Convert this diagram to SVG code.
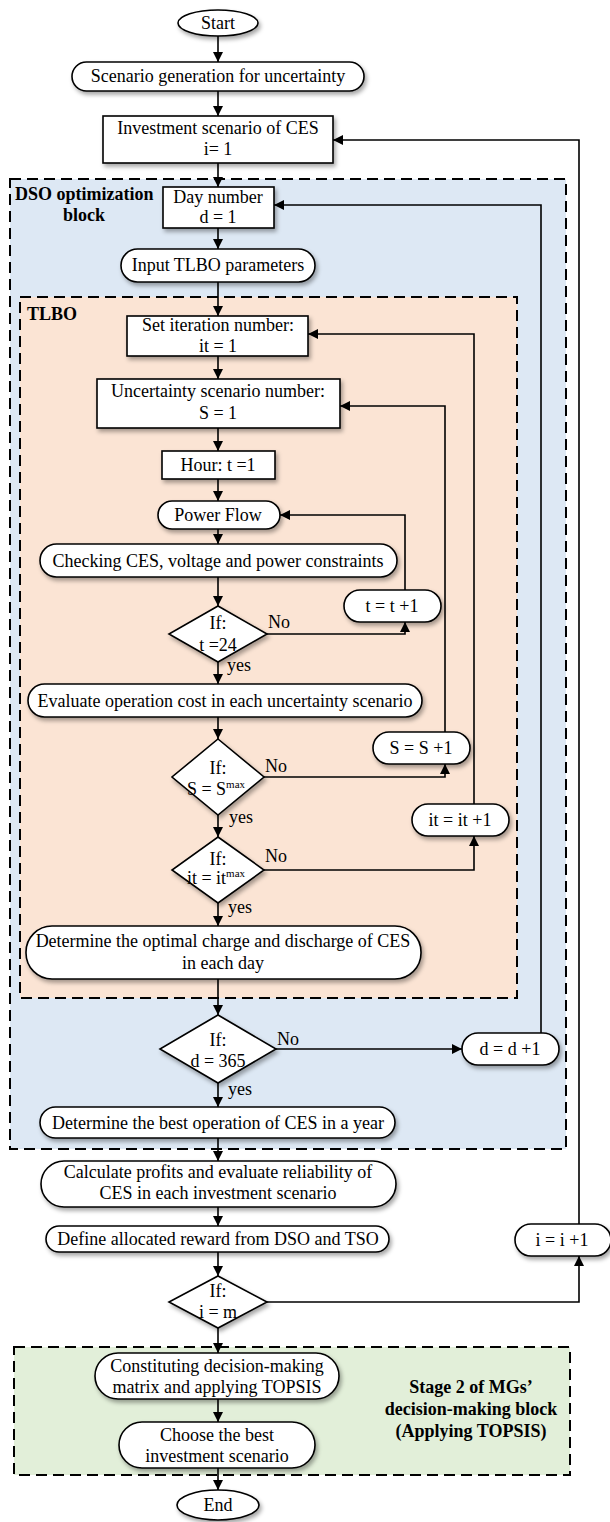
<svg xmlns="http://www.w3.org/2000/svg" width="610" height="1522" viewBox="0 0 610 1522">
  <style>
    .t { font-family: "Liberation Serif", "Times New Roman", serif; font-size: 18px; fill: #000; }
    .c { text-anchor: middle; }
    .b { font-weight: bold; }
    .node { fill: #fff; stroke: #000; stroke-width: 1.6; filter: url(#shadow); }
    .wire { fill: none; stroke: #000; stroke-width: 1.6; }
    .arr { marker-end: url(#head); }
    .block { stroke: #000; stroke-width: 2; stroke-dasharray: 11 6; }
    .sup { font-size: 11px; }
  </style>
  <defs>
    <marker id="head" viewBox="0 0 10 10" refX="10" refY="5" markerWidth="10" markerHeight="10" markerUnits="userSpaceOnUse" orient="auto">
      <path d="M0,0 L10,5 L0,10 z" fill="#000"/>
    </marker>
    <filter id="shadow" x="-10%" y="-20%" width="125%" height="160%">
      <feDropShadow dx="2" dy="3" stdDeviation="2" flood-color="#000" flood-opacity="0.35"/>
    </filter>
  </defs>

  <rect width="610" height="1522" fill="#fff"/>

  <!-- dashed blocks -->
  <g id="dso-block">
    <rect class="block" x="10" y="179" width="556" height="970" fill="#dde8f4"/>
    <text class="t b" x="15" y="200">DSO optimization</text>
    <text class="t b c" x="84" y="221">block</text>
  </g>
  <g id="tlbo-block">
    <rect class="block" x="20" y="297" width="497" height="701" fill="#fbe4d4"/>
    <text class="t b" x="27" y="320">TLBO</text>
  </g>
  <g id="topsis-block">
    <rect class="block" x="14" y="1347" width="556" height="128" fill="#e2efd9"/>
    <text class="t b c" x="471" y="1393">Stage 2 of MGs’</text>
    <text class="t b c" x="471" y="1415">decision-making block</text>
    <text class="t b c" x="471" y="1437">(Applying TOPSIS)</text>
  </g>

  <!-- connectors -->
  <g id="connectors">
    <line class="wire arr" x1="218" y1="36" x2="218" y2="62"/>
    <line class="wire arr" x1="218" y1="91" x2="218" y2="116"/>
    <line class="wire arr" x1="218" y1="163" x2="218" y2="187"/>
    <line class="wire arr" x1="218" y1="228" x2="218" y2="249"/>
    <line class="wire arr" x1="218" y1="282" x2="218" y2="316"/>
    <line class="wire arr" x1="218" y1="356" x2="218" y2="379"/>
    <line class="wire arr" x1="218" y1="428" x2="218" y2="451"/>
    <line class="wire arr" x1="218" y1="479" x2="218" y2="501"/>
    <line class="wire arr" x1="218" y1="529" x2="218" y2="544"/>
    <line class="wire arr" x1="218" y1="577" x2="218" y2="606"/>
    <line class="wire arr" x1="218" y1="662" x2="218" y2="684"/>
    <line class="wire arr" x1="218" y1="717" x2="218" y2="739"/>
    <line class="wire arr" x1="218" y1="815" x2="218" y2="837"/>
    <line class="wire arr" x1="218" y1="903" x2="218" y2="926"/>
    <line class="wire arr" x1="218" y1="979" x2="218" y2="1015"/>
    <line class="wire arr" x1="218" y1="1083" x2="218" y2="1107"/>
    <line class="wire arr" x1="218" y1="1138" x2="218" y2="1161"/>
    <line class="wire arr" x1="218" y1="1207" x2="218" y2="1226"/>
    <line class="wire arr" x1="218" y1="1252" x2="218" y2="1276"/>
    <line class="wire arr" x1="218" y1="1328" x2="218" y2="1353"/>
    <line class="wire arr" x1="218" y1="1399" x2="218" y2="1422"/>
    <line class="wire arr" x1="218" y1="1468" x2="218" y2="1490"/>

    <!-- hour loop -->
    <polyline class="wire arr" points="267,634 405,634 405,622"/>
    <polyline class="wire arr" points="405,590 405,515 280,515"/>
    <!-- scenario loop -->
    <polyline class="wire arr" points="264,777 445,777 445,764"/>
    <polyline class="wire arr" points="445,732 445,406 340,406"/>
    <!-- iteration loop -->
    <polyline class="wire arr" points="264,870 474,870 474,836"/>
    <polyline class="wire arr" points="474,804 474,334 308,334"/>
    <!-- day loop -->
    <line class="wire arr" x1="276" y1="1049" x2="462" y2="1049"/>
    <polyline class="wire arr" points="541,1033 541,205 274,205"/>
    <!-- investment loop -->
    <polyline class="wire arr" points="267,1302 579,1302 579,1256"/>
    <polyline class="wire arr" points="579,1224 579,140 333,140"/>

    <text class="t" x="268" y="628">No</text>
    <text class="t" x="227" y="671">yes</text>
    <text class="t" x="265" y="772">No</text>
    <text class="t" x="229" y="823">yes</text>
    <text class="t" x="265" y="862">No</text>
    <text class="t" x="228" y="913">yes</text>
    <text class="t" x="277" y="1045">No</text>
    <text class="t" x="228" y="1095">yes</text>
  </g>

  <!-- nodes -->
  <g id="start">
    <ellipse class="node" cx="218" cy="23" rx="40" ry="13"/>
    <text class="t c" x="218" y="29">Start</text>
  </g>
  <g id="scenario-generation">
    <rect class="node" x="72" y="62" width="292" height="29" rx="14.5"/>
    <text class="t c" x="218" y="82">Scenario generation for uncertainty</text>
  </g>
  <g id="investment-scenario">
    <rect class="node" x="103" y="116" width="230" height="47"/>
    <text class="t c" x="218" y="134">Investment scenario of CES</text>
    <text class="t c" x="218" y="155">i= 1</text>
  </g>
  <g id="day-number">
    <rect class="node" x="163" y="187" width="111" height="41"/>
    <text class="t c" x="218" y="203">Day number</text>
    <text class="t c" x="218" y="223">d = 1</text>
  </g>
  <g id="input-tlbo">
    <rect class="node" x="121" y="249" width="194" height="33" rx="16.5"/>
    <text class="t c" x="218" y="271">Input TLBO parameters</text>
  </g>
  <g id="set-iteration">
    <rect class="node" x="127" y="316" width="181" height="40"/>
    <text class="t c" x="218" y="331">Set iteration number:</text>
    <text class="t c" x="218" y="352">it = 1</text>
  </g>
  <g id="uncertainty-scenario">
    <rect class="node" x="97" y="379" width="243" height="49"/>
    <text class="t c" x="218" y="397">Uncertainty scenario number:</text>
    <text class="t c" x="218" y="419">S = 1</text>
  </g>
  <g id="hour">
    <rect class="node" x="162" y="451" width="113" height="28"/>
    <text class="t c" x="218" y="471">Hour: t =1</text>
  </g>
  <g id="power-flow">
    <rect class="node" x="158" y="501" width="122" height="28" rx="14"/>
    <text class="t c" x="218" y="521">Power Flow</text>
  </g>
  <g id="checking">
    <rect class="node" x="40" y="544" width="357" height="33" rx="16.5"/>
    <text class="t c" x="218" y="567">Checking CES, voltage and power constraints</text>
  </g>
  <g id="check-hour">
    <polygon class="node" points="218,606 267,634 218,662 169,634"/>
    <text class="t c" x="218" y="629">If:</text>
    <text class="t c" x="218" y="651">t =24</text>
  </g>
  <g id="next-hour">
    <rect class="node" x="344" y="590" width="97" height="32" rx="16"/>
    <text class="t c" x="392" y="612">t = t +1</text>
  </g>
  <g id="evaluate-cost">
    <rect class="node" x="28" y="684" width="394" height="33" rx="16.5"/>
    <text class="t c" x="225" y="707">Evaluate operation cost in each uncertainty scenario</text>
  </g>
  <g id="check-scenario">
    <polygon class="node" points="218,739 264,777 218,815 172,777"/>
    <text class="t c" x="218" y="774">If:</text>
    <text class="t c" x="216" y="795">S = S<tspan class="sup" dy="-7">max</tspan></text>
  </g>
  <g id="next-scenario">
    <rect class="node" x="373" y="732" width="97" height="32" rx="16"/>
    <text class="t c" x="421" y="754">S = S +1</text>
  </g>
  <g id="check-iteration">
    <polygon class="node" points="218,837 264,870 218,903 172,870"/>
    <text class="t c" x="218" y="865">If:</text>
    <text class="t c" x="216" y="884">it = it<tspan class="sup" dy="-7">max</tspan></text>
  </g>
  <g id="next-iteration">
    <rect class="node" x="412" y="804" width="97" height="32" rx="16"/>
    <text class="t c" x="460" y="826">it = it +1</text>
  </g>
  <g id="optimal-charge">
    <rect class="node" x="26" y="926" width="395" height="53" rx="26"/>
    <text class="t c" x="223" y="947">Determine the optimal charge and discharge of CES</text>
    <text class="t c" x="223" y="969">in each day</text>
  </g>
  <g id="check-day">
    <polygon class="node" points="218,1015 276,1049 218,1083 160,1049"/>
    <text class="t c" x="218" y="1046">If:</text>
    <text class="t c" x="218" y="1067">d = 365</text>
  </g>
  <g id="next-day">
    <rect class="node" x="462" y="1033" width="97" height="32" rx="16"/>
    <text class="t c" x="510" y="1055">d = d +1</text>
  </g>
  <g id="best-operation">
    <rect class="node" x="40" y="1107" width="355" height="31" rx="15.5"/>
    <text class="t c" x="218" y="1129">Determine the best operation of CES in a year</text>
  </g>
  <g id="calculate-profits">
    <rect class="node" x="41" y="1161" width="355" height="46" rx="23"/>
    <text class="t c" x="218" y="1178">Calculate profits and evaluate reliability of</text>
    <text class="t c" x="218" y="1199">CES in each investment scenario</text>
  </g>
  <g id="define-reward">
    <rect class="node" x="46" y="1226" width="343" height="26" rx="13"/>
    <text class="t c" x="218" y="1245">Define allocated reward from DSO and TSO</text>
  </g>
  <g id="check-investment">
    <polygon class="node" points="218,1276 267,1302 218,1328 169,1302"/>
    <text class="t c" x="218" y="1297">If:</text>
    <text class="t c" x="218" y="1318">i = m</text>
  </g>
  <g id="next-investment">
    <rect class="node" x="515" y="1224" width="96" height="32" rx="16"/>
    <text class="t c" x="562" y="1246">i = i +1</text>
  </g>
  <g id="decision-matrix">
    <rect class="node" x="95" y="1353" width="244" height="46" rx="23"/>
    <text class="t c" x="217" y="1372">Constituting decision-making</text>
    <text class="t c" x="217" y="1393">matrix and applying TOPSIS</text>
  </g>
  <g id="choose-best">
    <rect class="node" x="119" y="1422" width="196" height="46" rx="23"/>
    <text class="t c" x="217" y="1441">Choose the best</text>
    <text class="t c" x="217" y="1462">investment scenario</text>
  </g>
  <g id="end">
    <ellipse class="node" cx="218" cy="1505" rx="41" ry="15"/>
    <text class="t c" x="218" y="1511">End</text>
  </g>
</svg>
